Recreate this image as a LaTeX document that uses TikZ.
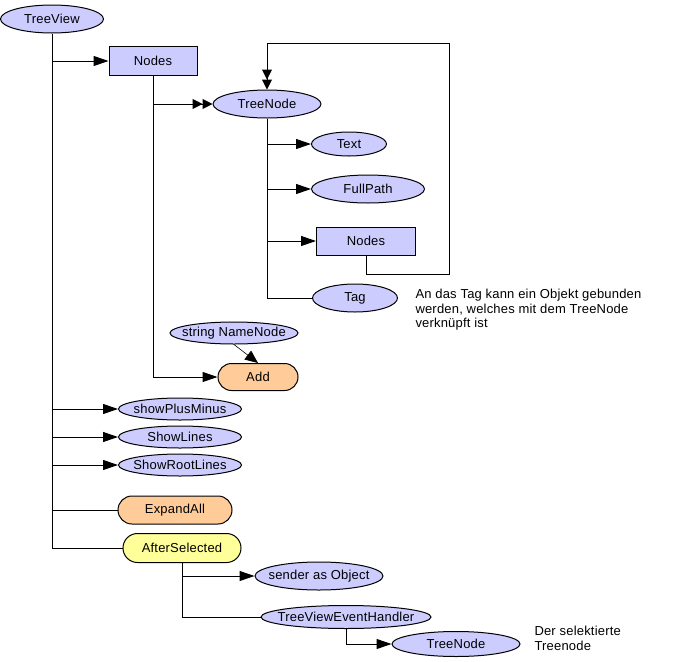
\documentclass[tikz,border=0pt]{standalone}
\usepackage{fontspec}
\setmainfont[LetterSpace=1.5]{Liberation Sans}
\usetikzlibrary{shapes.geometric,shapes.misc,arrows.meta}
\definecolor{lav}{RGB}{204,204,255}
\definecolor{peach}{RGB}{255,204,153}
\definecolor{lemon}{RGB}{255,255,153}
\begin{document}
\begin{tikzpicture}[x=1pt,y=-1pt,line width=1pt,
 >={Triangle[length=15pt,width=10pt]},
 every node/.style={font=\fontsize{13}{14.5}\selectfont,inner sep=0pt},
 prop/.style={ellipse,draw,fill=lav,inner xsep=-12pt,inner ysep=-6pt},
 coll/.style={rectangle,draw,fill=lav},
 meth/.style={rounded rectangle,draw,fill=peach},
 evt/.style={rounded rectangle,draw,fill=lemon},
 dbl/.style={-{Triangle[length=10pt,width=10pt]Triangle[length=10pt,width=10pt]}}]
\useasboundingbox (0,0) rectangle (681,662);
\node[prop,minimum width=103pt,minimum height=28pt] (tv) at (52,19) {TreeView};
\node[coll,minimum width=88pt,minimum height=29pt] (nodes) at (153,61) {Nodes};
\node[prop,minimum width=108pt,minimum height=28pt] (tn) at (267,104) {TreeNode};
\node[prop,minimum width=75pt,minimum height=24pt] (text) at (349,144) {Text};
\node[prop,minimum width=113pt,minimum height=28pt] (path) at (368,189) {FullPath};
\node[coll,minimum width=99pt,minimum height=28pt] (subnodes) at (366,241) {Nodes};
\node[prop,minimum width=85pt,minimum height=28pt] (tag) at (355,298) {Tag};
\node[anchor=north west,align=left] (tagnote) at (415,289) {An das Tag kann ein Objekt gebunden\\werden, welches mit dem TreeNode\\verknüpft ist};
\node[prop,minimum width=128pt,minimum height=22pt] (name) at (234,333) {string NameNode};
\node[meth,minimum width=80pt,minimum height=27pt] (add) at (258,377) {Add};
\node[prop,minimum width=123pt,minimum height=22pt] (plus) at (180,409) {showPlusMinus};
\node[prop,minimum width=123pt,minimum height=22pt] (lines) at (180,437) {ShowLines};
\node[prop,minimum width=123pt,minimum height=22pt] (root) at (180,465) {ShowRootLines};
\node[meth,minimum width=114pt,minimum height=28pt] (expand) at (175,510) {ExpandAll};
\node[evt,minimum width=118pt,minimum height=29pt] (after) at (182,548) {AfterSelected};
\node[prop,minimum width=128pt,minimum height=28pt] (sender) at (319,576) {sender as Object};
\node[prop,minimum width=170pt,minimum height=23pt] (handler) at (346,617) {TreeViewEventHandler};
\node[prop,minimum width=128pt,minimum height=25pt] (seltn) at (456,644) {TreeNode};
\node[anchor=north west,align=left] (selnote) at (534,626) {Der selektierte\\Treenode};
% TreeView
\draw (tv.south) |- (after.west);
\draw[->] (tv.south |- nodes.west) -- (nodes.west);
\draw[->] (tv.south |- plus.west) -- (plus.west);
\draw[->] (tv.south |- lines.west) -- (lines.west);
\draw[->] (tv.south |- root.west) -- (root.west);
\draw (tv.south |- expand.west) -- (expand.west);
% Nodes
\draw[->] (nodes.south) |- (add.west);
\draw[dbl] (nodes.south |- tn.west) -- (tn.west);
\draw[->,line width=0.6pt,>={Triangle[length=13pt,width=11pt]}] (name.south) -- (add.north);
% TreeNode
\draw (tn.south) |- (tag.west);
\draw[->] (tn.south |- text.west) -- (text.west);
\draw[->] (tn.south |- path.west) -- (path.west);
\draw[->] (tn.south |- subnodes.west) -- (subnodes.west);
\coordinate (loopbot) at (449,274);
\coordinate (looptop) at (449,43);
\draw[dbl] (subnodes.south) |- (loopbot) -- (looptop) -| (tn.north);
% AfterSelected
\draw (after.south) |- (handler.west);
\draw[->] (after.south |- sender.west) -- (sender.west);
\draw[->] (handler.south) |- (seltn.west);
\end{tikzpicture}
\end{document}
